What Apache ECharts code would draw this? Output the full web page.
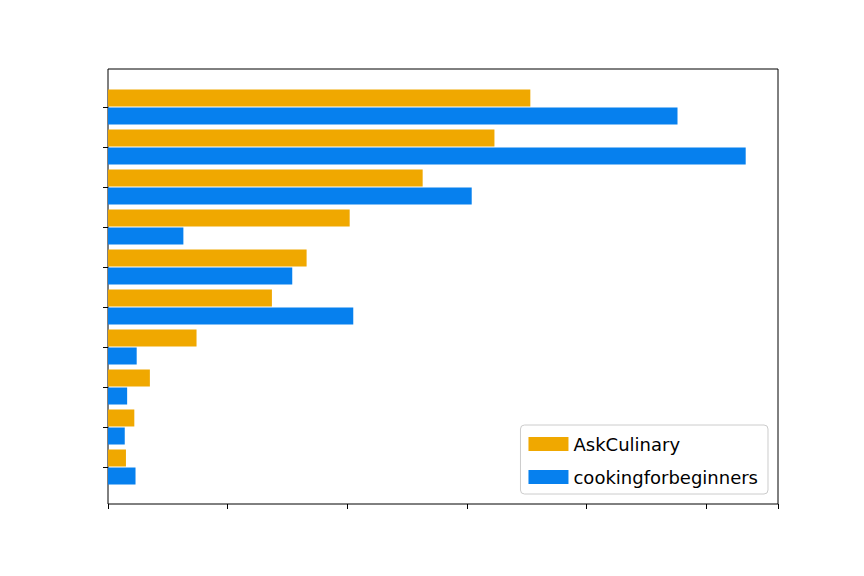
<!DOCTYPE html>
<html>
<head>
<meta charset="utf-8">
<script src="https://cdn.jsdelivr.net/npm/echarts@6/dist/echarts.min.js"></script>
<style>html,body{margin:0;background:#fff}#chart{width:864px;height:576px}</style>
</head>
<body>
<div id="chart"></div>
<script>
// categories top to bottom (labels are hidden in the reference)
var categories = ['c1', 'c2', 'c3', 'c4', 'c5', 'c6', 'c7', 'c8', 'c9', 'c10'];
var askCulinary = [3.53, 3.23, 2.63, 2.02, 1.66, 1.37, 0.74, 0.35, 0.22, 0.15];
var cookingForBeginners = [4.76, 5.33, 3.04, 0.63, 1.54, 2.05, 0.24, 0.16, 0.14, 0.23];
var xMax = 5.6;

var myChart = echarts.init(document.getElementById('chart'), null, {renderer: 'svg'});

var option = {
    animation: false,
    grid: [
        {left: 108, right: 86, top: 69, bottom: 72, show: true, borderColor: '#000', borderWidth: 1},
        {left: 108, right: 86, top: 87, bottom: 89}
    ],
    xAxis: [
        {gridIndex: 0, type: 'value', min: 0, max: xMax, interval: 1,
            axisLine: {show: false}, splitLine: {show: false},
            axisTick: {show: true, length: 5, lineStyle: {color: '#000'}},
            axisLabel: {show: false}},
        {gridIndex: 1, type: 'value', min: 0, max: xMax, show: false}
    ],
    yAxis: [
        {gridIndex: 0, type: 'value', show: false},
        {gridIndex: 1, type: 'category', inverse: true, data: categories,
            axisLine: {show: false},
            axisTick: {show: true, alignWithLabel: true, length: 5, lineStyle: {color: '#000'}},
            axisLabel: {show: false}}
    ],
    legend: {
        orient: 'vertical',
        right: 96,
        bottom: 82,
        width: 278,
        padding: [10, 10, 8, 8],
        itemWidth: 40,
        itemHeight: 14,
        itemGap: 15,
        borderColor: '#ccc',
        borderWidth: 1,
        borderRadius: 4,
        icon: 'rect',
        textStyle: {fontFamily: 'DejaVu Sans', fontSize: 18, color: '#000'},
        data: ['AskCulinary', 'cookingforbeginners']
    },
    series: [
        {name: 'AskCulinary', type: 'bar', xAxisIndex: 1, yAxisIndex: 1,
            data: askCulinary, barWidth: 17, barGap: '6%', itemStyle: {color: '#f0a800'}},
        {name: 'cookingforbeginners', type: 'bar', xAxisIndex: 1, yAxisIndex: 1,
            data: cookingForBeginners, barWidth: 17, itemStyle: {color: '#0680ee'}}
    ]
};

myChart.setOption(option);
</script>
</body>
</html>
